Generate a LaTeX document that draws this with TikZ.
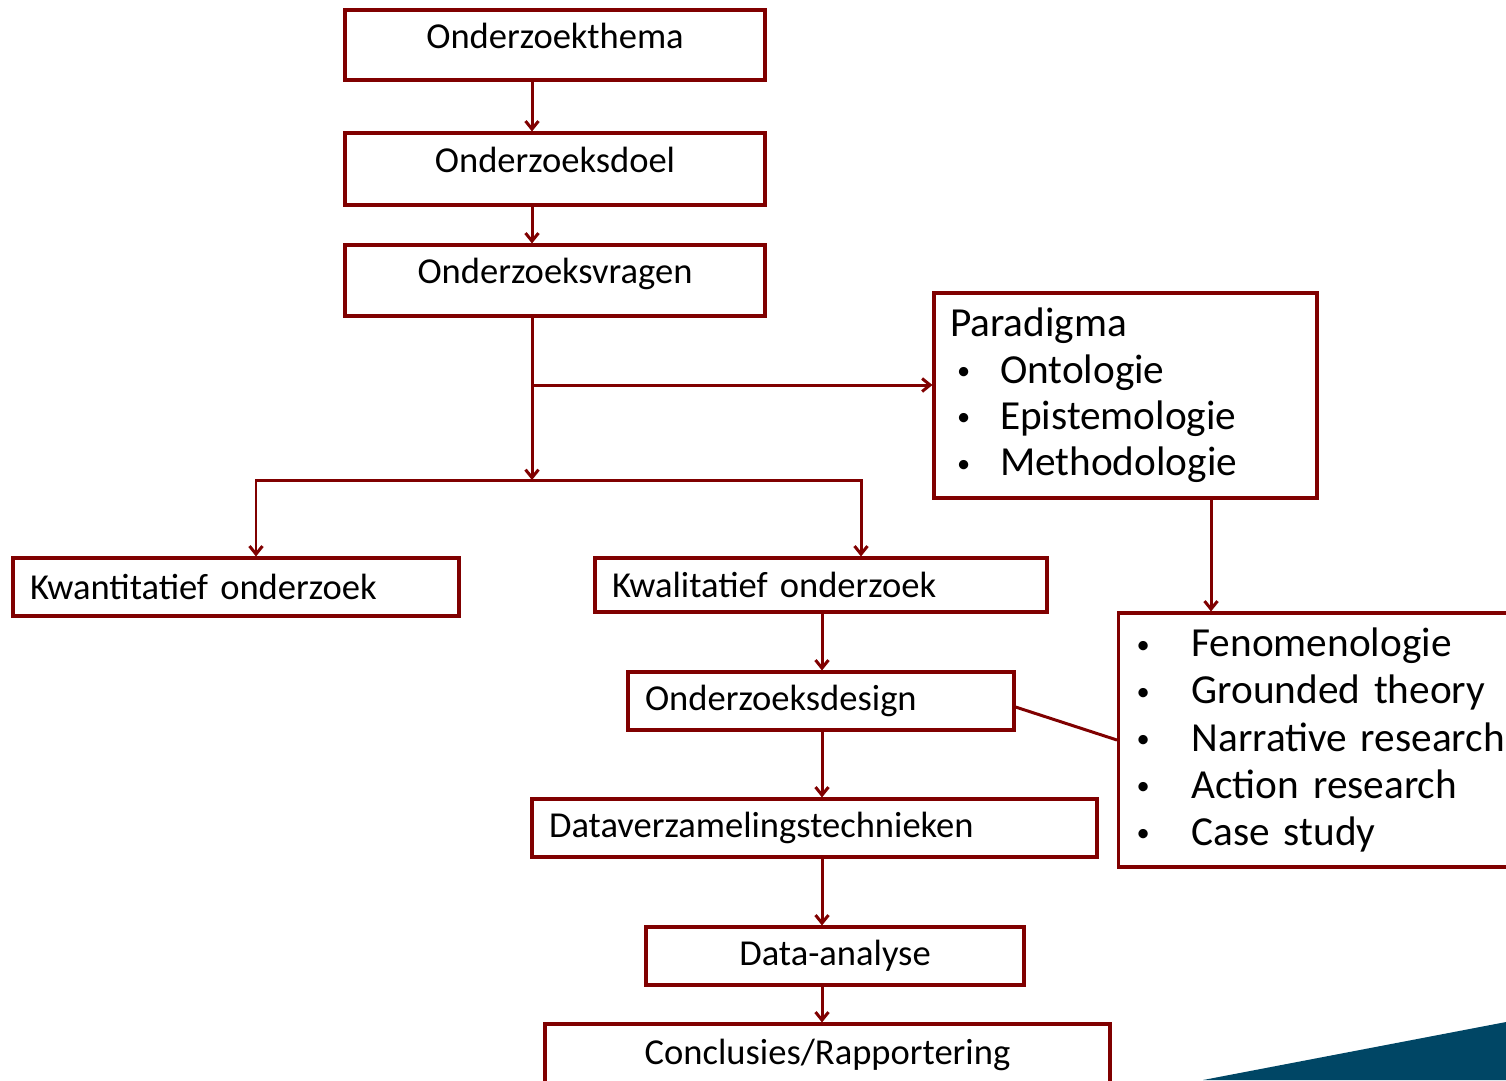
\documentclass[tikz,border=0pt]{standalone}
\usepackage{fontspec}
\setmainfont{Carlito}
\usepackage{tikz}
\usetikzlibrary{arrows.meta,calc,positioning}
\definecolor{boxred}{RGB}{128,0,0}
\definecolor{cornerblue}{RGB}{0,70,101}

\tikzset{
  stepbox/.style={draw=boxred, line width=1.8pt, inner xsep=0.34cm, inner ysep=0pt,
    font=\fontsize{20.8}{24}\selectfont},
  topbox/.style={stepbox, minimum width=8.4cm, text height=0.5cm, text depth=0.38cm},
  listbox/.style={stepbox, align=left, font=\fontsize{23.5}{26.4}\selectfont},
  link/.style={boxred, line width=1.7pt, ->},
}
\newcommand{\bul}[1]{\makebox[#1][l]{\raisebox{0.07cm}{\fontsize{15}{15}\selectfont\textbullet}}}

\begin{document}
\begin{tikzpicture}[x=0.02cm, y=-0.02cm, >={Straight Barb[length=0.16cm,width=0.26cm]}]
  \useasboundingbox (0,0) rectangle (1506,1080);

  % Corner decoration
  \fill[cornerblue] (1203,1080) -- (1506,1022) -- (1506,1080) -- cycle;

  % Research question chain
  \node[topbox, minimum height=1.4cm] (thema) at (555,45) {Onderzoekthema};
  \node[topbox, minimum height=1.44cm] (doel) at (555,169) {Onderzoeksdoel};
  \node[topbox, minimum height=1.42cm] (vragen) at (555,280.5) {Onderzoeksvragen};

  % Paradigm
  \node[listbox, text width=7.02cm, inner xsep=0.32cm, minimum height=4.1cm] (paradigma) at (1125.5,395.5)
    {Paradigma\\
     \hspace*{0.14cm}\bul{0.86cm}Ontologie\\
     \hspace*{0.14cm}\bul{0.86cm}Epistemologie\\
     \hspace*{0.14cm}\bul{0.86cm}Methodologie};

  % Two kinds of research
  \node[stepbox, text width=8.24cm, minimum height=1.16cm] (kwant) at (236,587) {Kwantitatief onderzoek};
  \node[stepbox, text width=8.36cm, minimum height=1.08cm] (kwal) at (821,585) {Kwalitatief onderzoek};

  % Qualitative steps
  \node[stepbox, text width=7.04cm, minimum height=1.16cm] (design) at (821,701) {Onderzoeksdesign};
  \node[listbox, anchor=west, text width=8.6cm, inner xsep=0.36cm, minimum height=5.08cm,
    font=\fontsize{23.5}{26.8}\selectfont] (designs) at (1117,740)
    {\bul{1.1cm}Fenomenologie\\
     \bul{1.1cm}Grounded theory\\
     \bul{1.1cm}Narrative research\\
     \bul{1.1cm}Action research\\
     \bul{1.1cm}Case study};
  \node[stepbox, text width=10.62cm, minimum height=1.16cm] (dataverz) at (814.5,828) {Dataverzamelingstechnieken};
  \node[stepbox, minimum width=7.56cm, minimum height=1.16cm] (analyse) at (835,956) {Data-analyse};
  \node[stepbox, minimum width=11.3cm, minimum height=1.24cm] (conclusies) at (827.5,1055) {Conclusies/Rapportering};

  % Connectors
  \coordinate (spine) at (532,0);
  \coordinate (branch) at (532,385);
  \coordinate (split) at (532,480);
  \coordinate (lsplit) at (256,480);
  \coordinate (rsplit) at (861,480);
  \coordinate (pdrop) at (1211,0);
  \coordinate (chain) at (822,0);

  \draw[link] (thema.south -| spine) -- (doel.north -| spine);
  \draw[link] (doel.south -| spine) -- (vragen.north -| spine);
  \draw[link] (vragen.south -| spine) -- (split);
  \draw[link] (branch) -- (branch -| paradigma.west);
  \draw[link] (split) -| (kwant.north -| lsplit);
  \draw[link] (split) -| (kwal.north -| rsplit);
  \draw[link] (paradigma.south -| pdrop) -- (designs.north -| pdrop);
  \draw[link] (kwal.south -| chain) -- (design.north -| chain);
  \draw[link] (design.south -| chain) -- (dataverz.north -| chain);
  \draw[link] (dataverz.south -| chain) -- (analyse.north -| chain);
  \draw[link] (analyse.south -| chain) -- (conclusies.north -| chain);
  \draw[boxred, line width=1.7pt] ([yshift=-0.12cm]design.east) -- (designs.west);
\end{tikzpicture}
\end{document}
